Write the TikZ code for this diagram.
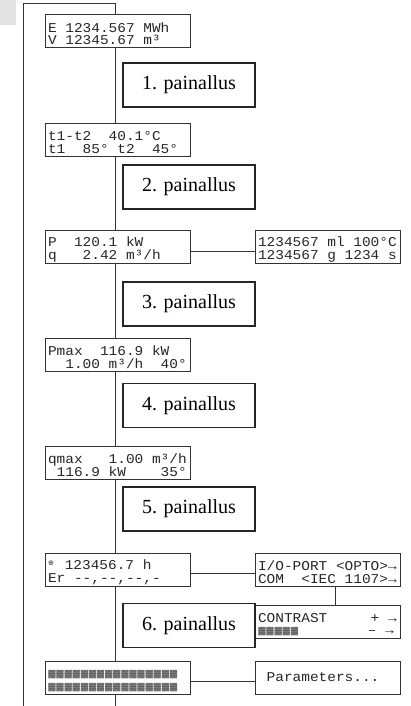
\documentclass[tikz,border=0pt]{standalone}
\usepackage{graphicx}
\usepackage{fontspec}
\setmainfont{Liberation Serif}
\newfontfamily\lcdfont[FakeStretch=1.07]{Liberation Mono}
\newfontfamily\symfont{DejaVu Sans}
\usetikzlibrary{calc}

\tikzset{
  lcd/.style={draw=black!80, line width=0.7pt, minimum height=33pt,
              inner xsep=3pt, inner ysep=0pt, align=left, text=black!85,
              font=\lcdfont\fontsize{13.5}{12.5}\selectfont},
  press/.style={draw=black!85, line width=1.1pt, minimum width=132pt, minimum height=44pt,
                inner sep=0pt, font=\fontsize{20}{24}\selectfont},
  wire/.style={draw=black!80, line width=0.7pt}
}

% two lines of a display, each as wide as the screen
\newcommand{\screen}[2]{\makebox[139pt][l]{\rule{0pt}{15pt}#1}\\\makebox[139pt][l]{#2}}
\newcommand{\clk}{\makebox[0.6em][l]{\raisebox{0.3em}{\symfont\fontsize{7}{7}\selectfont ⊕}}}
\newcommand{\blk}{\makebox[0.6em]{\color{black!75}\raisebox{0.12em}{\scalebox{0.85}[0.55]{▓}}}}
\newcommand{\blkrow}{\blk\blk\blk\blk\blk\blk\blk\blk\blk\blk\blk\blk\blk\blk\blk\blk}

\begin{document}
\begin{tikzpicture}[x=1pt, y=-1pt]

  \useasboundingbox (0,0) rectangle (410,706);
  \fill[gray!22] (0,0) rectangle (16,25);

  % displays on the main line
  \node[lcd] (d1) at (117.5,31)    {\screen{E 1234.567 MWh}{V 12345.67 m³}};
  \node[lcd] (d2) at (117.5,139.5) {\screen{t1-t2~~40.1°C}{t1~~85°~t2~~45°}};
  \node[lcd] (d3) at (117.5,247)   {\screen{P~~120.1 kW}{q~~~2.42 m³/h}};
  \node[lcd] (d4) at (117.5,354.5) {\screen{Pmax~~116.9 kW}{~~1.00 m³/h~~40°}};
  \node[lcd] (d5) at (117.5,462.5) {\screen{qmax~~~1.00 m³/h}{~116.9 kW~~~~35°}};
  \node[lcd] (d6) at (117.5,569.5) {\screen{\clk~123456.7 h}{Er -{}-,-{}-,-{}-,-}};
  \node[lcd] (d7) at (117.5,677.5) {\screen{\blkrow}{\blkrow}};

  % displays on the side
  \node[lcd] (r3) at (327.5,247)   {\screen{1234567 ml 100°C}{1234567 g 1234 s}};
  \node[lcd] (io) at (327.5,569.5) {\screen{I/O-PORT <OPTO>→}{COM~~<IEC 1107>→}};
  \node[lcd] (ct) at (327.5,621.5) {\screen{CONTRAST~~~~~+ →}{\blk\blk\blk\blk\blk~~~~~~~~– →}};
  \node[lcd] (pa) at (327.5,677.5) {\makebox[139pt][l]{~Parameters...}};

  % button presses
  \foreach \y [count=\n] in {85,187,304,405.5,509,625.5}
    \node[press] (p\n) at (189,\y) {\n. painallus};

  % main line
  \coordinate (spine) at (115,3);
  \coordinate (rim) at (23,706);
  \draw[wire] (rim) |- (spine) -- (d1.north -| spine);
  \foreach \a/\b in {d1/d2, d2/d3, d3/d4, d4/d5, d5/d6, d6/d7}
    \draw[wire] (\a.south -| spine) -- (\b.north -| spine);
  \draw[wire] (d7.south -| spine) -- (spine |- rim);

  % side branches
  \foreach \a/\b in {d3/r3, d6/io, d7/pa}
    \draw[wire] ([yshift=-4pt]\a.east) -- ([yshift=-4pt]\a.east -| \b.west);
  \coordinate (tap) at (335,0);
  \draw[wire] (io.south -| tap) -- (ct.north -| tap);

\end{tikzpicture}
\end{document}
